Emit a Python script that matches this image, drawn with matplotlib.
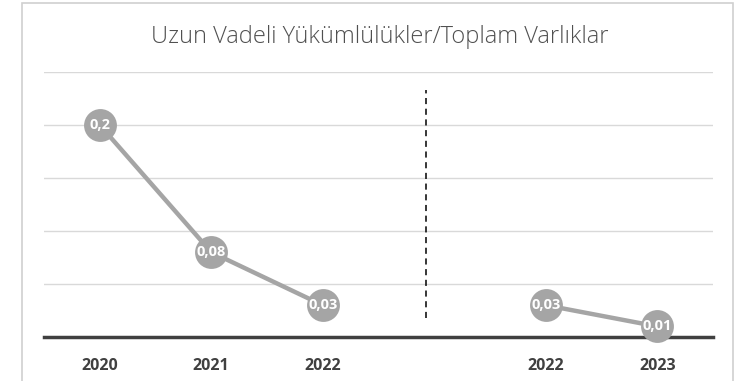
import matplotlib
matplotlib.use("Agg")
import matplotlib.pyplot as plt
from matplotlib.patches import Rectangle

years = ["2020", "2021", "2022", "", "2022", "2023"]
left_pos = [0, 1, 2]
left_vals = [0.2, 0.08, 0.03]
left_labels = ["0,2", "0,08", "0,03"]
right_pos = [4, 5]
right_vals = [0.03, 0.01]
right_labels = ["0,03", "0,01"]
title = "Uzun Vadeli Yükümlülükler/Toplam Varlıklar"

W, H = 744, 381
fig = plt.figure(figsize=(W / 100, H / 100), dpi=100)
fig.patch.set_facecolor("white")

# outer chart frame
fig.patches.append(Rectangle((22 / W, -0.01), (733 - 22) / W, 1 - 3 / H + 0.01,
                             transform=fig.transFigure, fill=False,
                             edgecolor="#d0d0d0", linewidth=1.2))

ax = fig.add_axes([44 / W, 1 - 337 / H, (713 - 44) / W, (337 - 72) / H])
ax.set_xlim(-0.5, 5.5)
ax.set_ylim(0, 0.25)
ax.set_facecolor("white")

for y in [0.05, 0.1, 0.15, 0.2, 0.25]:
    ax.axhline(y, color="#d9d9d9", linewidth=1.0, zorder=1)

for s in ["left", "right", "top"]:
    ax.spines[s].set_visible(False)
ax.spines["bottom"].set_color("#404040")
ax.spines["bottom"].set_linewidth(2.5)
ax.spines["bottom"].set_zorder(2)

ax.set_yticks([])
ax.set_xticks(range(len(years)))
ax.set_xticklabels(years, fontsize=11.5, fontweight="bold", color="#404040",
                   family=["Open Sans", "DejaVu Sans"])
ax.tick_params(axis="x", length=0, pad=15)

gray = "#a5a5a5"
for pos, vals, labels in [(left_pos, left_vals, left_labels),
                          (right_pos, right_vals, right_labels)]:
    ax.plot(pos, vals, color=gray, linewidth=3.2, zorder=3,
            solid_capstyle="round")
    ax.scatter(pos, vals, s=560, color=gray, zorder=4, clip_on=False,
               linewidths=0)
    for x, v, t in zip(pos, vals, labels):
        ax.text(x, v, t, ha="center", va="center", color="white",
                fontsize=10.5, fontweight="bold", zorder=5,
                family=["Open Sans", "DejaVu Sans"])

# separator between the two periods
ax.plot([2.93, 2.93], [0.018, 0.233], color="black", linewidth=1.1,
        linestyle=(0, (4, 3)), zorder=3)

fig.text(380 / W, 1 - 37 / H, title, ha="center", va="center", fontsize=17,
         color="#505050", family=["Open Sans", "DejaVu Sans"],
         fontweight="light")

fig.savefig("out.png", dpi=100)
